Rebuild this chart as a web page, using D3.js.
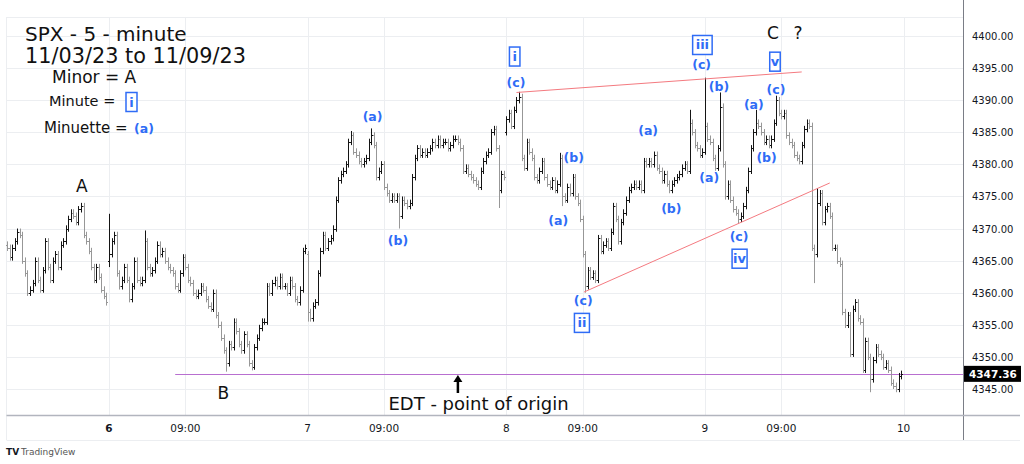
<!DOCTYPE html>
<html>
<head>
<meta charset="utf-8">
<script src="https://cdn.jsdelivr.net/npm/d3@7"></script>
<style>
	html, body { margin: 0; padding: 0; background: #fff; }
	svg { display: block; font-family: 'DejaVu Sans', sans-serif; }
</style>
</head>
<body>
<div id="chart"></div>
<script>
// closes of each 5 minute bar, one array per session (Nov 3 is only the last part)
const nov03 = [
	4367, 4365.5, 4367, 4368, 4369.5, 4369, 4365, 4363, 4360, 4360.5,
	4361.5, 4365, 4362, 4360.5, 4363.5, 4368, 4364, 4362, 4365, 4366,
	4364, 4367.5, 4368, 4370, 4371.5, 4372.5, 4372, 4371, 4373, 4373.5,
	4369, 4368, 4366.5, 4364, 4362, 4364, 4362.5, 4360.5, 4359.5, 4358.5
]
const nov06 = [
	4366, 4368, 4369, 4363, 4361, 4362, 4364, 4362, 4359, 4361,
	4365, 4362, 4361.5, 4362, 4368, 4364, 4363, 4363.5, 4365, 4367.5,
	4366, 4366.5, 4365, 4364, 4363.5, 4363, 4361, 4360.5, 4363, 4365.5,
	4364, 4362, 4361.5, 4360, 4359.5, 4360, 4361, 4360.5, 4359, 4358,
	4357.5, 4360, 4356.5, 4355, 4353, 4351, 4349, 4352, 4351.5, 4355.5,
	4354, 4352, 4351, 4353.5, 4352, 4349, 4348.5, 4351.5, 4353, 4354.5,
	4355.5, 4355.5, 4361, 4360, 4361.5, 4362, 4361, 4362.5, 4361, 4361,
	4360, 4362, 4361, 4359, 4358.5, 4360.5, 4366.5, 4367
]
const nov07 = [
	4357, 4356, 4358, 4358.5, 4363, 4366.5, 4369, 4367, 4368, 4368.5,
	4370, 4374.5, 4377.5, 4378.5, 4379, 4380, 4383.5, 4384.5, 4382, 4381.5,
	4380.5, 4380, 4380.5, 4381, 4383.5, 4384.5, 4383, 4378, 4379, 4380,
	4376.5, 4375.5, 4374.5, 4375, 4374.5, 4375, 4372, 4374.5, 4374, 4373.5,
	4374, 4378, 4381, 4382.5, 4381.5, 4382, 4381.5, 4382, 4382.5, 4383.5,
	4383, 4384, 4383, 4383.5, 4383.5, 4382.5, 4383, 4384, 4384, 4383.5,
	4382.5, 4379, 4379.5, 4378.5, 4378, 4377.5, 4377, 4376.5, 4379, 4380.5,
	4381.5, 4382, 4385, 4385.5, 4382.5, 4376, 4378.5, 4378
]
const nov08 = [
	4387, 4388, 4386, 4388.5, 4390, 4390.5, 4381, 4379.5, 4383.5, 4382,
	4381, 4378, 4377.5, 4379, 4380.5, 4378, 4377, 4376.5, 4377.5, 4376,
	4377, 4381, 4375, 4374.5, 4376.5, 4375.5, 4378, 4375, 4374, 4371.5,
	4366, 4361, 4363.5, 4362.5, 4363, 4362, 4368.5, 4366.5, 4367.5, 4368,
	4367, 4369.5, 4373.5, 4371.5, 4368, 4371, 4372.5, 4374.5, 4376, 4376.5,
	4377, 4376.5, 4377, 4376, 4380.5, 4380, 4380.5, 4380, 4381.5, 4379.5,
	4379, 4377.5, 4378.5, 4377, 4376, 4377, 4377.5, 4378, 4378.5, 4379.5,
	4380, 4379, 4386.5, 4385, 4383, 4382.5, 4381.5, 4382
]
const nov09 = [
	4386, 4384, 4383.5, 4381, 4379.5, 4382.5, 4389, 4380, 4375, 4377,
	4374.5, 4373, 4372.5, 4371.5, 4372, 4373.5, 4376, 4379, 4382.5, 4385,
	4386.5, 4386, 4385, 4383.5, 4384, 4383, 4384, 4386.5, 4390, 4388,
	4387.5, 4388, 4384.5, 4383.5, 4383, 4381.5, 4381, 4380.5, 4383, 4385.5,
	4386.5, 4386, 4367, 4366, 4374, 4375.5, 4371, 4373, 4373.5, 4372,
	4367, 4367, 4365, 4364.5, 4357, 4355, 4356.5, 4350.5, 4357.5, 4358.5,
	4356, 4355.5, 4348, 4352.5, 4350, 4346.5, 4349.5, 4351.5, 4350.5, 4350,
	4348.5, 4349, 4348, 4346, 4345.5, 4345, 4347, 4347.36
]
const sessions = [nov03, nov06, nov07, nov08, nov09]
const sessionOpens = [4367.5, 4365, 4366, 4385, 4382]

// bars with long wicks: [session, bar, high, low]
const wicks = [
	[0, 29, 4373.8, null], [1, 0, 4372.3, 4364], [1, 8, null, 4358.5], [1, 14, 4369.7, null],
	[1, 46, null, 4347.7], [1, 56, null, 4347.9], [2, 0, 4366.5, 4355.5], [2, 17, 4385.2, null],
	[2, 25, 4385.6, null], [2, 36, null, 4370], [2, 73, 4386, null], [2, 75, 4382.7, 4373.2],
	[3, 5, 4391.3, null], [3, 21, 4381.8, null], [3, 22, null, 4373.5], [3, 31, null, 4360],
	[3, 72, 4388.5, null], [4, 0, 4393.5, null], [4, 6, 4391.2, null], [4, 13, null, 4370.7],
	[4, 20, 4388.5, null], [4, 28, 4390.7, null], [4, 43, null, 4361.5], [4, 44, 4376.3, null],
	[4, 65, null, 4344.5], [4, 76, null, 4344.5]
]

const priceTicks = d3.range(4345, 4401, 5)
const lastPrice = 4347.36
const timeTickBars = [40, 70, 118, 148, 196, 226, 274, 304, 352]
const timeTickLabels = ['6', '09:00', '7', '09:00', '8', '09:00', '9', '09:00', '10']

// trend lines: [bar, price] to [bar, price]
const trendLines = [
	[[200, 4391.2], [312, 4394.4]],
	[[226.5, 4360.1], [323, 4377.1]]
]

// wave labels: [bar, price, text, kind]
const waveLabels = [
	[29.3, 4376.6, 'A', 'major'], [84.9, 4344.4, 'B', 'major'], [300.7, 4400.4, 'C', 'major'],
	[310.5, 4400.4, '?', 'major'],
	[143.5, 4387.5, '(a)', 'minuette'], [153.5, 4368.2, '(b)', 'minuette'],
	[199.3, 4396.8, 'i', 'minute'], [199.8, 4392.7, '(c)', 'minuette'],
	[222.5, 4381.0, '(b)', 'minuette'], [216.4, 4371.2, '(a)', 'minuette'],
	[226.2, 4358.8, '(c)', 'minuette'], [225.7, 4355.3, 'ii', 'minute'],
	[251.7, 4385.3, '(a)', 'minuette'], [260.8, 4373.2, '(b)', 'minuette'],
	[273.0, 4398.6, 'iii', 'minute'], [272.7, 4395.5, '(c)', 'minuette'],
	[279.5, 4392.2, '(b)', 'minuette'], [275.7, 4378.0, '(a)', 'minuette'],
	[287.4, 4368.7, '(c)', 'minuette'], [287.6, 4365.3, 'iv', 'minute'],
	[293.2, 4389.4, '(a)', 'minuette'], [298.2, 4381.0, '(b)', 'minuette'],
	[301.9, 4391.7, '(c)', 'minuette'], [301.5, 4396.0, 'v', 'minute']
]

const width = 1024, height = 464
const plot = {left: 6.5, top: 17, right: 963, bottom: 415}
const BLUE = '#2f6cf6'
const UP_COLOR = '#141414', DOWN_COLOR = '#979797'

const x = d3.scaleLinear().domain([0, 352]).range([7.1, 903.6])
const y = d3.scaleLinear().domain([4345, 4400]).range([389, 36])

// build OHLC bars, open = previous close within a session
const bars = []
sessions.forEach((closes, s) => {
	closes.forEach((c, i) => {
		const o = i === 0 ? sessionOpens[s] : closes[i - 1]
		let h = Math.max(o, c) + 0.5
		let l = Math.min(o, c) - 0.5
		wicks.filter(w => w[0] === s && w[1] === i).forEach(w => {
			if (w[2] != null) h = Math.max(h, w[2])
			if (w[3] != null) l = Math.min(l, w[3])
		})
		bars.push({g: bars.length, o, h, l, c})
	})
})

const svg = d3.select('#chart').append('svg').attr('width', width).attr('height', height)

// grid
const grid = svg.append('g')
grid.selectAll('line.h').data(priceTicks).enter().append('line')
	.attr('x1', plot.left).attr('x2', plot.right)
	.attr('y1', d => Math.round(y(d)) + 0.5).attr('y2', d => Math.round(y(d)) + 0.5)
	.attr('stroke', '#eceef1')
grid.selectAll('line.v').data(timeTickBars).enter().append('line')
	.attr('x1', d => Math.round(x(d)) + 0.5).attr('x2', d => Math.round(x(d)) + 0.5)
	.attr('y1', plot.top).attr('y2', plot.bottom)
	.attr('stroke', '#eceef1')
grid.append('line').attr('x1', plot.left).attr('x2', plot.right).attr('y1', plot.top + 0.5).attr('y2', plot.top + 0.5).attr('stroke', '#eceef1')
grid.append('line').attr('x1', plot.left).attr('x2', plot.left).attr('y1', plot.top).attr('y2', 440).attr('stroke', '#eceef1')

// last price line
svg.append('line')
	.attr('x1', x(66)).attr('x2', plot.right)
	.attr('y1', Math.round(y(lastPrice)) + 0.5).attr('y2', Math.round(y(lastPrice)) + 0.5)
	.attr('stroke', '#b86fd0')

// OHLC bars
const barG = svg.append('g')
	.selectAll('g').data(bars).enter().append('g')
	.attr('stroke', d => (d.c >= d.o ? UP_COLOR : DOWN_COLOR))
	.attr('stroke-width', 1)
barG.append('line')
	.attr('x1', d => Math.round(x(d.g)) + 0.5).attr('x2', d => Math.round(x(d.g)) + 0.5)
	.attr('y1', d => y(d.h)).attr('y2', d => y(d.l))
barG.append('line')
	.attr('x1', d => Math.round(x(d.g)) - 1).attr('x2', d => Math.round(x(d.g)) + 0.5)
	.attr('y1', d => Math.round(y(d.o)) + 0.5).attr('y2', d => Math.round(y(d.o)) + 0.5)
barG.append('line')
	.attr('x1', d => Math.round(x(d.g)) + 0.5).attr('x2', d => Math.round(x(d.g)) + 2)
	.attr('y1', d => Math.round(y(d.c)) + 0.5).attr('y2', d => Math.round(y(d.c)) + 0.5)

// trend lines
svg.selectAll('line.trend').data(trendLines).enter().append('line')
	.attr('x1', d => x(d[0][0])).attr('y1', d => y(d[0][1]))
	.attr('x2', d => x(d[1][0])).attr('y2', d => y(d[1][1]))
	.attr('stroke', '#f47a80').attr('stroke-width', 1)

// wave labels
waveLabels.forEach(([g, p, t, kind]) => {
	const cx = x(g), cy = y(p)
	if (kind === 'major') {
		svg.append('text').attr('x', cx).attr('y', cy + 6).attr('text-anchor', 'middle')
			.attr('font-size', 17).attr('fill', '#111').text(t)
	} else if (kind === 'minuette') {
		svg.append('text').attr('x', cx).attr('y', cy + 4.5).attr('text-anchor', 'middle')
			.attr('font-size', 12.5).attr('font-weight', 'bold').attr('fill', BLUE).text(t)
	} else {
		const w = 6 + t.length * 4.5
		svg.append('rect').attr('x', cx - w / 2).attr('y', cy - 9.5).attr('width', w).attr('height', 19)
			.attr('fill', '#fff').attr('stroke', BLUE).attr('stroke-width', 1.5)
		svg.append('text').attr('x', cx).attr('y', cy + 4.5).attr('text-anchor', 'middle')
			.attr('font-size', 13).attr('font-weight', 'bold').attr('fill', BLUE).text(t)
	}
})

// point of origin note
const arrowX = x(177)
svg.append('line').attr('x1', arrowX).attr('x2', arrowX).attr('y1', 380).attr('y2', 393)
	.attr('stroke', '#000').attr('stroke-width', 2.5)
svg.append('path').attr('d', `M${arrowX - 4.5},382 L${arrowX},375 L${arrowX + 4.5},382 Z`).attr('fill', '#000')
svg.append('text').attr('x', 478.5).attr('y', 410).attr('text-anchor', 'middle')
	.attr('font-size', 18).attr('fill', '#111').text('EDT - point of origin')

// title and legend
svg.append('text').attr('x', 25).attr('y', 41).attr('font-size', 20).attr('fill', '#111').text('SPX - 5 - minute')
svg.append('text').attr('x', 25).attr('y', 63).attr('font-size', 20.8).attr('fill', '#111').text('11/03/23 to 11/09/23')
svg.append('text').attr('x', 52).attr('y', 83).attr('font-size', 17).attr('fill', '#111').text('Minor = A')
svg.append('text').attr('x', 49).attr('y', 106).attr('font-size', 14.5).attr('fill', '#111').text('Minute =')
svg.append('rect').attr('x', 126).attr('y', 92.5).attr('width', 11).attr('height', 19)
	.attr('fill', '#fff').attr('stroke', BLUE).attr('stroke-width', 1.5)
svg.append('text').attr('x', 131.5).attr('y', 106.5).attr('text-anchor', 'middle').attr('font-size', 13)
	.attr('font-weight', 'bold').attr('fill', BLUE).text('i')
svg.append('text').attr('x', 44).attr('y', 133).attr('font-size', 15).attr('fill', '#111').text('Minuette =')
svg.append('text').attr('x', 134).attr('y', 132.5).attr('font-size', 12.5).attr('font-weight', 'bold')
	.attr('fill', BLUE).text('(a)')

// price axis
svg.append('line').attr('x1', plot.right + 0.5).attr('x2', plot.right + 0.5).attr('y1', 0).attr('y2', 440)
	.attr('stroke', '#7a7d86')
svg.append('g').selectAll('text').data(priceTicks).enter().append('text')
	.attr('x', 972).attr('y', d => y(d) + 4).attr('font-size', 10).attr('fill', '#131722')
	.text(d => d3.format('.2f')(d))
svg.append('rect').attr('x', plot.right + 1).attr('y', y(lastPrice) - 8).attr('width', 57).attr('height', 16).attr('fill', '#000')
svg.append('text').attr('x', 969).attr('y', y(lastPrice) + 4).attr('font-size', 10.5).attr('font-weight', 'bold')
	.attr('fill', '#fff').text(d3.format('.2f')(lastPrice))

// time axis
svg.append('line').attr('x1', plot.left).attr('x2', 1020).attr('y1', plot.bottom + 0.5).attr('y2', plot.bottom + 0.5)
	.attr('stroke', '#b2b5be').attr('stroke-width', 1.5)
svg.append('line').attr('x1', plot.left).attr('x2', 1020).attr('y1', 440.5).attr('y2', 440.5).attr('stroke', '#eceef1')
svg.append('g').selectAll('text').data(timeTickBars).enter().append('text')
	.attr('x', d => x(d)).attr('y', 432).attr('text-anchor', 'middle').attr('font-size', 10.5)
	.attr('fill', '#131722').attr('font-weight', (d, i) => (i === 0 ? 'bold' : 'normal'))
	.text((d, i) => timeTickLabels[i])

// branding
svg.append('text').attr('x', 6).attr('y', 455).attr('font-size', 9).attr('font-weight', 'bold').attr('fill', '#131722').text('TV')
svg.append('text').attr('x', 21).attr('y', 455).attr('font-size', 9).attr('fill', '#555').text('TradingView')
</script>
</body>
</html>
